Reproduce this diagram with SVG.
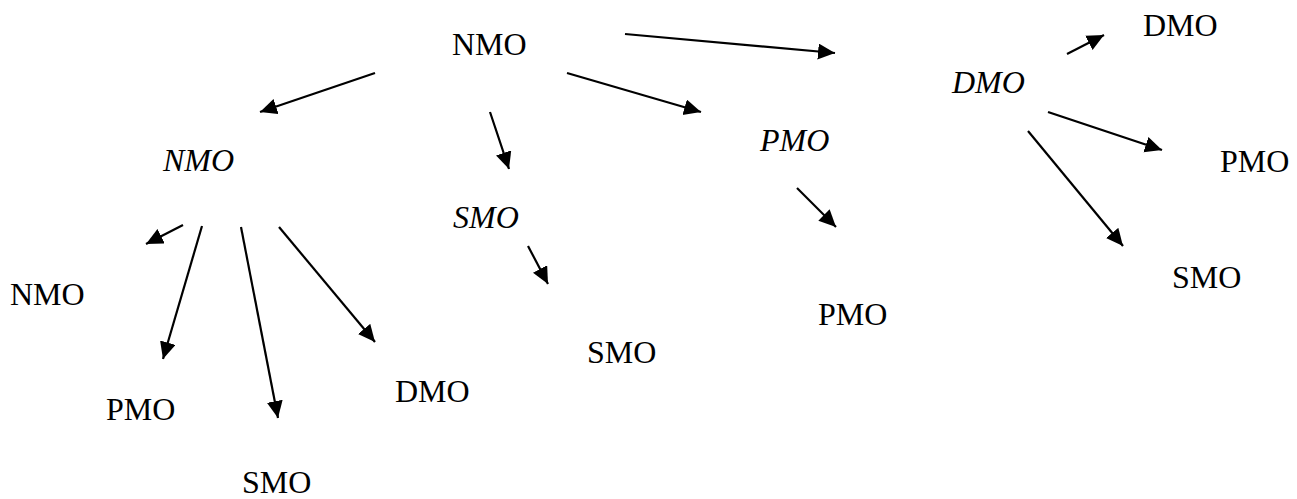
<svg xmlns="http://www.w3.org/2000/svg" width="1297" height="499" viewBox="0 0 1297 499">
  <style>
    text { font-family: "Liberation Serif", "Times New Roman", serif; font-size: 32px; fill: #000; }
    .it { font-style: italic; }
    .edge { stroke: #000; stroke-width: 2.2; fill: none; marker-end: url(#arrow); }
  </style>
  <defs>
    <marker id="arrow" markerUnits="userSpaceOnUse" markerWidth="18" markerHeight="17" refX="17" refY="8" orient="auto">
      <path d="M0,0 L17,8 L0,16 Z" fill="#000"/>
    </marker>
  </defs>
  <rect width="1297" height="499" fill="#fff"/>

  <g id="connectors">
    <line class="edge" x1="625" y1="34" x2="835" y2="53"/>
    <line class="edge" x1="567" y1="73" x2="701" y2="112"/>
    <line class="edge" x1="375" y1="73" x2="260" y2="112"/>
    <line class="edge" x1="490" y1="112" x2="509" y2="169"/>
    <line class="edge" x1="528" y1="246" x2="548" y2="284"/>
    <line class="edge" x1="797" y1="188" x2="836" y2="227"/>
    <line class="edge" x1="1067" y1="54" x2="1104" y2="35"/>
    <line class="edge" x1="1048" y1="112" x2="1162" y2="150"/>
    <line class="edge" x1="1028" y1="131" x2="1123" y2="246"/>
    <line class="edge" x1="183" y1="225" x2="146" y2="244"/>
    <line class="edge" x1="202" y1="226" x2="163" y2="359"/>
    <line class="edge" x1="241" y1="227" x2="278" y2="418"/>
    <line class="edge" x1="279" y1="227" x2="375" y2="342"/>
  </g>

  <g id="root-nmo"><text x="452" y="55">NMO</text></g>
  <g id="nmo-i"><text class="it" x="163" y="171">NMO</text></g>
  <g id="smo-i"><text class="it" x="453" y="228">SMO</text></g>
  <g id="pmo-i"><text class="it" x="760" y="151">PMO</text></g>
  <g id="dmo-i"><text class="it" x="952" y="93">DMO</text></g>

  <g id="nmo-nmo"><text x="10" y="305">NMO</text></g>
  <g id="nmo-pmo"><text x="106" y="420">PMO</text></g>
  <g id="nmo-smo"><text x="242" y="493">SMO</text></g>
  <g id="nmo-dmo"><text x="395" y="402">DMO</text></g>

  <g id="smo-smo"><text x="587" y="363">SMO</text></g>
  <g id="pmo-pmo"><text x="818" y="325">PMO</text></g>

  <g id="dmo-dmo"><text x="1143" y="36">DMO</text></g>
  <g id="dmo-pmo"><text x="1220" y="172">PMO</text></g>
  <g id="dmo-smo"><text x="1172" y="288">SMO</text></g>
</svg>
